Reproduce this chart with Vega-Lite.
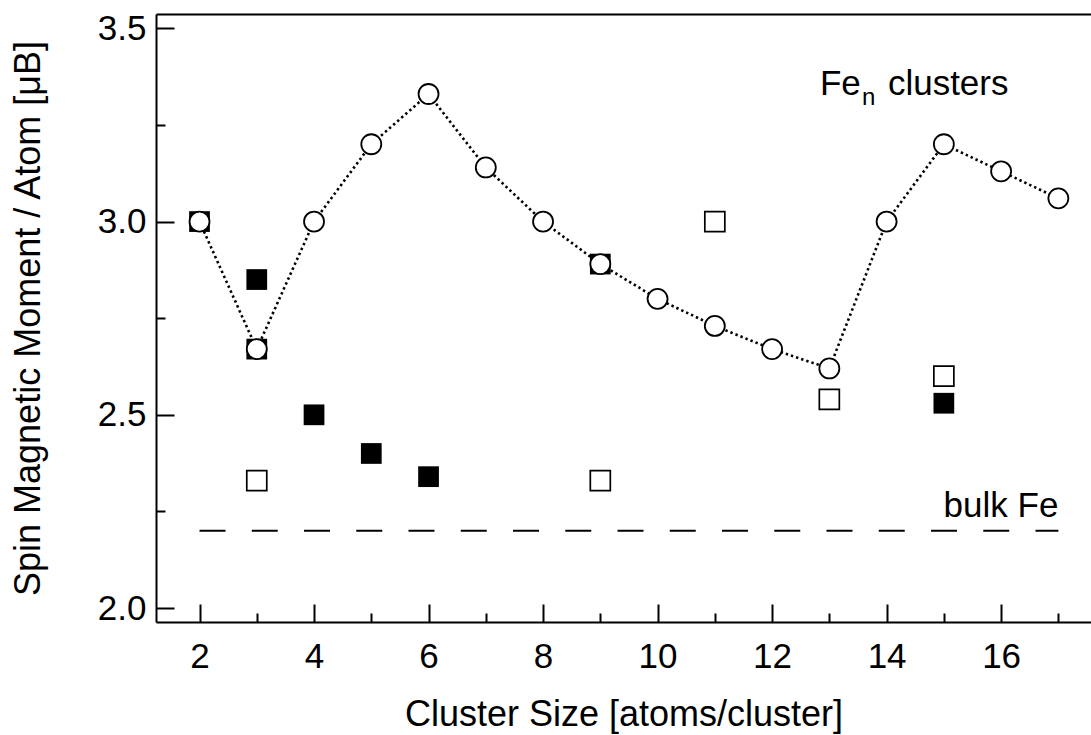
{
  "$schema": "https://vega.github.io/schema/vega-lite/v6.json",
  "width": 935,
  "height": 608,
  "autosize": "none",
  "padding": {"left": 156, "top": 14, "right": 0, "bottom": 113},
  "background": "white",
  "config": {"view": {"stroke": null}, "font": "Liberation Sans"},
  "datasets": {
    "pts": [
      {"n": 2, "m": 3.0, "s": "circle"},
      {"n": 3, "m": 2.67, "s": "circle"},
      {"n": 4, "m": 3.0, "s": "circle"},
      {"n": 5, "m": 3.2, "s": "circle"},
      {"n": 6, "m": 3.33, "s": "circle"},
      {"n": 7, "m": 3.14, "s": "circle"},
      {"n": 8, "m": 3.0, "s": "circle"},
      {"n": 9, "m": 2.89, "s": "circle"},
      {"n": 10, "m": 2.8, "s": "circle"},
      {"n": 11, "m": 2.73, "s": "circle"},
      {"n": 12, "m": 2.67, "s": "circle"},
      {"n": 13, "m": 2.62, "s": "circle"},
      {"n": 14, "m": 3.0, "s": "circle"},
      {"n": 15, "m": 3.2, "s": "circle"},
      {"n": 16, "m": 3.13, "s": "circle"},
      {"n": 17, "m": 3.06, "s": "circle"},
      {"n": 2, "m": 3.0, "s": "filled"},
      {"n": 3, "m": 2.67, "s": "filled"},
      {"n": 3, "m": 2.85, "s": "filled"},
      {"n": 4, "m": 2.5, "s": "filled"},
      {"n": 5, "m": 2.4, "s": "filled"},
      {"n": 6, "m": 2.34, "s": "filled"},
      {"n": 9, "m": 2.89, "s": "filled"},
      {"n": 15, "m": 2.53, "s": "filled"},
      {"n": 3, "m": 2.33, "s": "open"},
      {"n": 9, "m": 2.33, "s": "open"},
      {"n": 11, "m": 3.0, "s": "open"},
      {"n": 13, "m": 2.54, "s": "open"},
      {"n": 15, "m": 2.6, "s": "open"}
    ],
    "bulk": [{"n": 2, "n2": 17, "m": 2.2}],
    "bulklabel": [{"n": 17, "m": 2.235, "t": "bulk Fe"}],
    "fen": [{"n": 12.835, "m": 3.3266}]
  },
  "layer": [
    {
      "data": {"name": "bulk"},
      "mark": {"type": "rule", "strokeDash": [26, 26.25], "strokeWidth": 2, "color": "black"},
      "encoding": {
        "x": {
          "field": "n", "type": "quantitative",
          "scale": {"domain": [1.24, 17.57], "nice": false, "zero": false},
          "axis": {
            "orient": "bottom",
            "values": [2, 4, 6, 8, 10, 12, 14, 16],
            "title": "Cluster Size [atoms/cluster]",
            "grid": false,
            "tickSize": -18,
            "labelOverlap": false,
            "labelFlush": false,
            "labelFont": "Liberation Sans",
            "labelFontSize": 35,
            "labelColor": "black",
            "labelPadding": 35,
            "tickColor": "black",
            "tickWidth": 2,
            "domainColor": "black",
            "domainWidth": 2,
            "titleFont": "Liberation Sans",
            "titleFontSize": 36,
            "titleFontWeight": "normal",
            "titleColor": "black",
            "titlePadding": 23
          }
        },
        "x2": {"field": "n2"},
        "y": {
          "field": "m", "type": "quantitative",
          "scale": {"domain": [1.964, 3.537], "nice": false, "zero": false},
          "axis": {
            "orient": "left",
            "values": [2.0, 2.5, 3.0, 3.5],
            "title": "Spin Magnetic Moment / Atom [μB]",
            "grid": false,
            "format": ".1f",
            "tickSize": -18,
            "labelOverlap": false,
            "labelFlush": false,
            "labelFont": "Liberation Sans",
            "labelFontSize": 35,
            "labelColor": "black",
            "labelPadding": 28,
            "tickColor": "black",
            "tickWidth": 2,
            "domainColor": "black",
            "domainWidth": 2,
            "titleFont": "Liberation Sans",
            "titleFontSize": 36,
            "titleFontWeight": "normal",
            "titleColor": "black",
            "titlePadding": 50
          }
        }
      }
    },
    {
      "data": {"name": "pts"},
      "transform": [{"filter": "datum.s === 'circle'"}],
      "mark": {"type": "line", "strokeDash": [2.4, 3], "strokeWidth": 2.6, "color": "black"},
      "encoding": {
        "x": {
          "field": "n", "type": "quantitative",
          "axis": {"orient": "top", "labels": false, "ticks": false, "title": null, "grid": false, "domain": true, "domainColor": "black", "domainWidth": 2}
        },
        "y": {
          "field": "m", "type": "quantitative",
          "axis": {"orient": "left", "values": [2.25, 2.75, 3.25], "labels": false, "domain": false, "title": null, "grid": false, "tickSize": -9, "tickColor": "black", "tickWidth": 2}
        }
      }
    },
    {
      "data": {"name": "pts"},
      "transform": [{"filter": "datum.s === 'filled'"}],
      "mark": {"type": "point", "shape": "square", "filled": true, "size": 430, "color": "black", "opacity": 1},
      "encoding": {
        "x": {
          "field": "n", "type": "quantitative",
          "axis": {"orient": "bottom", "values": [3, 5, 7, 9, 11, 13, 15, 17], "labels": false, "domain": false, "title": null, "grid": false, "tickSize": -9, "tickColor": "black", "tickWidth": 2}
        },
        "y": {"field": "m", "type": "quantitative", "axis": null}
      }
    },
    {
      "data": {"name": "pts"},
      "transform": [{"filter": "datum.s === 'open'"}],
      "mark": {"type": "point", "shape": "square", "filled": false, "size": 400, "stroke": "black", "strokeWidth": 1.7, "fill": "white", "opacity": 1},
      "encoding": {
        "x": {"field": "n", "type": "quantitative", "axis": null},
        "y": {"field": "m", "type": "quantitative", "axis": null}
      }
    },
    {
      "data": {"name": "pts"},
      "transform": [{"filter": "datum.s === 'circle'"}],
      "mark": {"type": "point", "shape": "circle", "filled": false, "size": 400, "stroke": "black", "strokeWidth": 1.8, "fill": "white", "fillOpacity": 1, "opacity": 1},
      "encoding": {
        "x": {"field": "n", "type": "quantitative", "axis": null},
        "y": {"field": "m", "type": "quantitative", "axis": null}
      }
    },
    {
      "data": {"name": "bulklabel"},
      "mark": {"type": "text", "align": "right", "baseline": "alphabetic", "fontSize": 35, "font": "Liberation Sans", "color": "black"},
      "encoding": {
        "x": {"field": "n", "type": "quantitative", "axis": null},
        "y": {"field": "m", "type": "quantitative", "axis": null},
        "text": {"field": "t"}
      }
    },
    {
      "data": {"name": "fen"},
      "mark": {"type": "text", "align": "left", "baseline": "alphabetic", "fontSize": 35, "font": "Liberation Sans", "color": "black", "text": "Fe"},
      "encoding": {
        "x": {"field": "n", "type": "quantitative", "axis": null},
        "y": {"field": "m", "type": "quantitative", "axis": null}
      }
    },
    {
      "data": {"name": "fen"},
      "mark": {"type": "text", "align": "left", "baseline": "alphabetic", "fontSize": 24, "font": "Liberation Sans", "color": "black", "text": "n", "dx": 42, "dy": 10},
      "encoding": {
        "x": {"field": "n", "type": "quantitative", "axis": null},
        "y": {"field": "m", "type": "quantitative", "axis": null}
      }
    },
    {
      "data": {"name": "fen"},
      "mark": {"type": "text", "align": "left", "baseline": "alphabetic", "fontSize": 35, "font": "Liberation Sans", "color": "black", "text": "clusters", "dx": 68},
      "encoding": {
        "x": {"field": "n", "type": "quantitative", "axis": null},
        "y": {"field": "m", "type": "quantitative", "axis": null}
      }
    }
  ],
  "resolve": {"axis": {"x": "independent", "y": "independent"}}
}
